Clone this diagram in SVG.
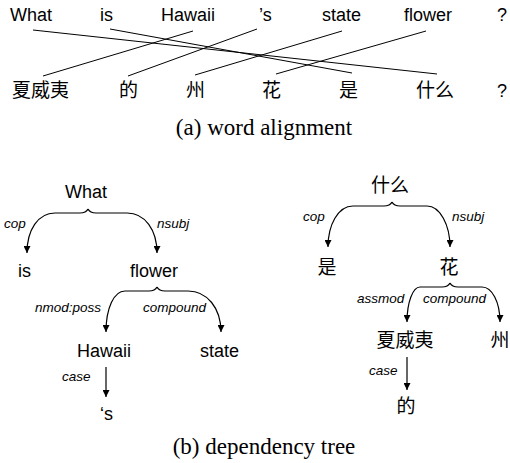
<svg xmlns="http://www.w3.org/2000/svg" width="510" height="463" viewBox="0 0 510 463">
<style>
.w{font-family:"Liberation Sans","Noto Sans CJK SC",sans-serif;font-size:18px;fill:#000}
.c{font-family:"Noto Sans CJK SC","Liberation Sans",sans-serif;font-size:19px;fill:#000}
.l{font-family:"Liberation Sans",sans-serif;font-size:13.5px;font-style:italic;fill:#000}
.cap{font-family:"Liberation Serif",serif;font-size:23px;fill:#000;text-anchor:middle}
.ln{stroke:#000;stroke-width:1;fill:none}
.arc{stroke:#000;stroke-width:1.2;fill:none;marker-end:url(#ah)}
.m{text-anchor:middle}
</style>
<defs>
<marker id="ah" viewBox="0 0 10 10" refX="10" refY="5" markerUnits="userSpaceOnUse" markerWidth="8" markerHeight="7" orient="auto">
<path d="M0,0 L10,5 L0,10 z" fill="#000"/>
</marker>
</defs>

<g id="top-row">
<g id="en-what"><text class="w" x="10" y="21">What</text></g>
<g id="en-is"><text class="w" x="100" y="21">is</text></g>
<g id="en-hawaii"><text class="w" x="161" y="21">Hawaii</text></g>
<g id="en-s"><text class="w" x="259" y="21">’s</text></g>
<g id="en-state"><text class="w" x="322" y="21">state</text></g>
<g id="en-flower"><text class="w" x="404" y="21">flower</text></g>
<g id="en-q"><text class="w" x="497" y="21">?</text></g>
</g>
<g id="bottom-row">
<g id="zh-hawaii"><text class="c" x="12" y="97">夏威夷</text></g>
<g id="zh-de"><text class="c" x="119" y="97">的</text></g>
<g id="zh-zhou"><text class="c" x="186" y="97">州</text></g>
<g id="zh-hua"><text class="c" x="262" y="97">花</text></g>
<g id="zh-shi"><text class="c" x="339" y="97">是</text></g>
<g id="zh-shenme"><text class="c" x="416" y="97">什么</text></g>
<g id="zh-q"><text class="w" x="497" y="97">?</text></g>
</g>
<g id="alignment-links">
<line class="ln" x1="33" y1="30" x2="437" y2="74"/>
<line class="ln" x1="110" y1="29" x2="352" y2="73"/>
<line class="ln" x1="193" y1="31" x2="43" y2="76"/>
<line class="ln" x1="257" y1="29" x2="128" y2="76"/>
<line class="ln" x1="342" y1="31" x2="195" y2="75"/>
<line class="ln" x1="426" y1="31" x2="276" y2="74"/>
</g>
<text class="cap" x="264" y="135">(a) word alignment</text>

<g id="left-tree-nodes">
<g id="t-what"><text class="w m" x="86" y="198">What</text></g>
<g id="t-is"><text class="w" x="18" y="277">is</text></g>
<g id="t-flower"><text class="w" x="130" y="277">flower</text></g>
<g id="t-hawaii"><text class="w" x="77" y="357">Hawaii</text></g>
<g id="t-state"><text class="w" x="200" y="357">state</text></g>
<g id="t-s"><text class="w" x="100" y="420">‘s</text></g>
</g>
<g id="right-tree-nodes">
<g id="r-shenme"><text class="c m" x="390" y="192">什么</text></g>
<g id="r-shi"><text class="c m" x="327" y="274">是</text></g>
<g id="r-hua"><text class="c m" x="449" y="274">花</text></g>
<g id="r-hawaii"><text class="c m" x="405" y="347">夏威夷</text></g>
<g id="r-zhou"><text class="c m" x="500" y="347">州</text></g>
<g id="r-de"><text class="c m" x="406" y="413">的</text></g>
</g>

<g id="tree-edges">
<path class="arc" d="M88 209 Q86 213 80 213 L55 213 C38 213 27 230 27 253"/>
<path class="arc" d="M88 209 Q90 213 96 213 L127 213 C145 213 157 230 157 253"/>
<path class="arc" d="M157 287 Q155 291 149 291 L125 291 C114 291 106 308 106 332"/>
<path class="arc" d="M157 287 Q159 291 165 291 L188 291 C207 291 221 308 221 332"/>
<path class="arc" d="M106 367 L106 397"/>
<path class="arc" d="M392 202 Q390 206 384 206 L353 206 C338 206 328 225 328 247"/>
<path class="arc" d="M392 202 Q394 206 400 206 L427 206 C440 206 450 225 450 247"/>
<path class="arc" d="M450 283 Q448 287 442 287 L420 287 C413 287 407 302 407 322"/>
<path class="arc" d="M450 283 Q452 287 458 287 L482 287 C492 287 500 302 500 322"/>
<path class="arc" d="M407 357 L407 390"/>
</g>
<g id="edge-labels">
<text class="l" x="4" y="228">cop</text>
<text class="l" x="157" y="228">nsubj</text>
<text class="l" x="35" y="312">nmod:poss</text>
<text class="l" x="143" y="312">compound</text>
<text class="l" x="62" y="381">case</text>
<text class="l" x="303" y="221">cop</text>
<text class="l" x="452" y="221">nsubj</text>
<text class="l" x="357" y="303">assmod</text>
<text class="l" x="423" y="303">compound</text>
<text class="l" x="369" y="375">case</text>
</g>
<text class="cap" x="264" y="454">(b) dependency tree</text>
</svg>
